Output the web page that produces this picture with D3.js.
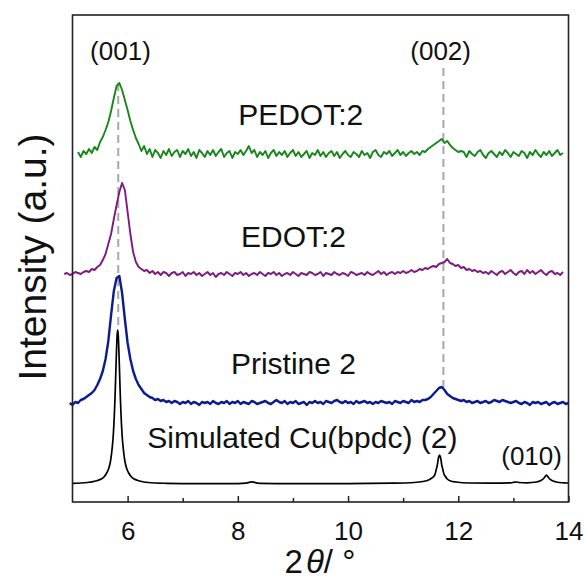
<!DOCTYPE html>
<html>
<head>
<meta charset="utf-8">
<script src="https://cdn.jsdelivr.net/npm/d3@7"></script>
<style>
  body { margin: 0; background: #fff; }
  svg { font-family: "Liberation Sans", Arial, sans-serif; }
</style>
</head>
<body>
<svg id="chart" width="585" height="582"></svg>
<script>
// 2theta axis
const xDomain = [5, 14]
const majorTicks = [6, 8, 10, 12, 14]
const minorTicks = [7, 9, 11, 13]

// stacked offsets (a.u.)
const offsets = { pedot: 347, edot: 228, pristine: 99, simulated: 18 }

// PEDOT:2, 5.10 -> 13.90 step 0.05
const pedotStart = 5.10
const pedot = [
  3, -2, 4, 1, 6, 2, 8, 5, 13, 18,
  25, 33, 44, 57, 69, 72, 65, 55, 45, 34,
  25, 17, 11, 4, 9, 1, 6, -2, 5, 2,
  -3, 4, 0, 6, -1, 3, 5, -2, 4, 1,
  6, -1, 3, -3, 5, 2, -2, 4, 0, 5,
  -1, 3, 6, -2, 2, 4, -3, 3, 1, 5,
  0, 4, 9, 2, 5, -2, 3, 0, 4, -3,
  2, 5, -1, 3, 0, 4, -2, 2, 5, -1,
  3, -2, 1, 4, -3, 2, 0, 5, -1, 3,
  -2, 2, 4, -1, 3, -3, 1, 4, 0, -2,
  3, 1, -2, 4, 0, 2, -3, 3, 5, 0,
  -2, 3, 1, 4, -1, 2, 5, 0, 3, -1,
  2, 4, 1, 3, 0, 4, 3, 6, 8, 10,
  12, 14, 16, 12, 14, 10, 7, 5, 3, 4,
  3, -2, 4, 1, -1, 3, 5, 0, -3, 2,
  4, 1, -2, 3, 0, 5, 2, -2, 3, 1,
  -1, 4, 2, -3, 3, 0, 5, 1, -2, 3,
  0, 4, -1, 2, 5, 0, 2
]

// EDOT:2, 4.85 -> 13.90 step 0.05
const edotStart = 4.85
const edot = [
  0, 1, -1, 0, 2, 1, 0, 2, 3, 2,
  5, 4, 7, 9, 14, 20, 30, 40, 55, 69,
  82, 91, 84, 62, 40, 22, 12, 7, 5, 3,
  4, 1, 3, 0, 2, -1, 2, 1, -2, 1,
  2, -1, 0, 2, -2, 1, 0, 2, -1, 1,
  -2, 0, 2, -1, 1, -3, 0, 1, -1, 2,
  0, -2, 1, 0, 2, -1, 1, -2, 0, 1,
  -1, 2, 0, -2, 1, 0, 2, -1, 1, -2,
  0, 1, -1, 2, 0, -2, 1, 0, -1, 2,
  1, -1, 0, 2, -2, 1, 0, -1, 2, 0,
  -1, 1, 0, -2, 2, 1, -1, 0, 1, -1,
  2, 0, -1, 1, 3, 0, 2, -1, 1, 2,
  0, 2, 1, 3, 1, 2, 4, 2, 3, 5,
  4, 6, 5, 7, 8, 7, 10, 11, 12, 15,
  11, 10, 8, 9, 6, 7, 4, 5, 3, 4,
  2, 3, 1, 2, 0, 3, 1, -1, 2, 3,
  0, 2, 4, 1, -1, 2, 3, 0, 4, 1,
  3, 0, 2, 4, 1, -1, 2, 3, 0, 1, -1, 2
]

// Pristine 2, 4.95 -> 14.00 step 0.05
const pristineStart = 4.95
const pristine = [
  0, -2, 1, 0, 3, 4, 6, 8, 10, 13,
  18, 24, 32, 44, 62, 88, 112, 125, 127, 110,
  84, 60, 44, 32, 24, 18, 14, 10, 8, 6,
  5, 3, 4, 2, 3, 1, 2, 0, 2, 1,
  -1, 1, 0, 2, -1, 1, 0, -2, 1, 0,
  1, -1, 2, 0, -1, 1, 0, 2, -1, 1,
  0, 2, -1, 1, 0, -1, 2, 1, -1, 0,
  1, 2, 0, -1, 1, 3, 1, 0, 2, -1,
  1, 0, 2, -1, 0, 1, -2, 1, 0, 2,
  0, 1, -1, 2, 1, 0, 2, 3, 1, 0,
  2, 0, 1, -1, 2, 0, 1, 2, 0, 1,
  -1, 1, 0, 2, 1, 0, 1, -1, 2, 1,
  0, 2, 1, 0, 3, 1, 2, 1, 3, 3,
  4, 6, 9, 12, 15, 16, 13, 9, 7, 5,
  4, 3, 2, 3, 1, 2, 0, 1, 2, 0,
  1, 2, 0, 1, 3, 2, 1, 3, 2, 1,
  0, 1, 2, 0, -1, 1, 0, -2, 1, 0,
  1, -1, 0, 1, -2, 0, 1, -1, 0, 1, -1, 0
]
const step = 0.05

// Simulated Cu(bpdc) (2), [2theta, intensity]
const simulated = [
  [5.00, 0.7], [5.27, 1.5], [5.42, 3], [5.52, 5], [5.57, 7], [5.62, 11], [5.66, 16],
  [5.69, 23], [5.72, 36], [5.74, 49], [5.76, 70], [5.77, 84], [5.78, 101], [5.79, 119],
  [5.80, 136], [5.81, 149], [5.82, 154], [5.83, 149], [5.84, 136], [5.85, 119], [5.86, 101],
  [5.87, 84], [5.88, 70], [5.90, 49], [5.92, 36], [5.95, 23], [5.98, 16], [6.02, 11],
  [6.07, 7], [6.12, 5], [6.22, 3], [6.37, 1.5], [6.70, 0.7], [7.30, 0.3], [8.00, 0.4],
  [8.15, 0.9], [8.22, 1.8], [8.26, 2.2], [8.30, 1.6], [8.40, 0.7], [9.00, 0.3], [10.00, 0.4],
  [10.80, 0.8], [11.20, 1.5], [11.36, 2.5], [11.46, 4], [11.52, 6], [11.56, 8], [11.58, 10],
  [11.60, 14.5], [11.62, 19], [11.64, 26], [11.66, 29], [11.68, 26], [11.70, 19], [11.72, 14.5],
  [11.74, 10], [11.76, 8], [11.80, 5], [11.86, 3], [11.96, 2], [12.20, 1], [12.60, 0.8],
  [12.95, 1.2], [13.02, 1.8], [13.06, 2], [13.10, 1.5], [13.25, 1.2], [13.42, 2], [13.50, 3.5],
  [13.54, 5], [13.57, 7], [13.60, 9], [13.63, 7], [13.66, 5], [13.70, 3.5], [13.78, 2],
  [13.90, 1.2], [14.00, 1]
]

// reference peak positions and dashed extents (a.u.)
const refPeaks = [5.83, 11.73]
const refExtent = [[172, 419], [112, 434]]
const hklLabels = ['(001)', '(002)', '(010)']
const seriesLabels = ['PEDOT:2', 'EDOT:2', 'Pristine 2', 'Simulated Cu(bpdc) (2)']

const svg = d3.select('#chart')
const x = d3.scaleLinear().domain(xDomain).range([72.5, 568.5])
const y = d3.scaleLinear().domain([0, 487]).range([502, 15])

const toPoints = (start, vals, off) => vals.map((v, i) => [start + i * step, v + off])
const series = [
  { pts: toPoints(pedotStart, pedot, offsets.pedot), color: '#17871b', w: 1.9 },
  { pts: toPoints(edotStart, edot, offsets.edot), color: '#7d1a7f', w: 1.9 },
  { pts: toPoints(pristineStart, pristine, offsets.pristine), color: '#0c1b8e', w: 2.4 },
  { pts: simulated.map(d => [d[0], d[1] + offsets.simulated]), color: '#000', w: 1.7, smooth: true }
]

// dashed guides
svg.selectAll('line.ref').data(refPeaks).join('line')
  .attr('x1', d => x(d)).attr('x2', d => x(d))
  .attr('y1', (d, i) => y(refExtent[i][1])).attr('y2', (d, i) => y(refExtent[i][0]))
  .attr('stroke', '#a8a8a8').attr('stroke-width', 2).attr('stroke-dasharray', '8,5')

const line = d3.line().x(d => x(d[0])).y(d => y(d[1]))
svg.selectAll('path.s').data(series).join('path')
  .attr('d', d => line.curve(d.smooth ? d3.curveMonotoneX : d3.curveLinear)(d.pts))
  .attr('fill', 'none').attr('stroke', d => d.color).attr('stroke-width', d => d.w)
  .attr('stroke-linejoin', 'round')

// frame
svg.append('rect').attr('x', x(5)).attr('y', y(487)).attr('width', x(14) - x(5)).attr('height', y(0) - y(487))
  .attr('fill', 'none').attr('stroke', '#222').attr('stroke-width', 1.6)

const ax = svg.append('g').attr('transform', `translate(0,${y(0)})`)
  .call(d3.axisBottom(x).tickValues(majorTicks).tickSizeInner(-6).tickSizeOuter(0).tickPadding(20).tickFormat(d3.format('d')))
ax.select('.domain').remove()
ax.selectAll('text').attr('font-size', 26).attr('fill', '#111').attr('font-family', '"Liberation Sans", Arial, sans-serif')
ax.selectAll('line').attr('stroke', '#222').attr('stroke-width', 1.5)
const axm = svg.append('g').attr('transform', `translate(0,${y(0)})`)
  .call(d3.axisBottom(x).tickValues(minorTicks).tickSizeInner(-4).tickSizeOuter(0).tickFormat(''))
axm.select('.domain').remove()
axm.selectAll('line').attr('stroke', '#222').attr('stroke-width', 1.5)

// labels
const seriesAt = [[9.14, 377], [9.01, 255], [9.01, 128], [9.17, 54]]
svg.selectAll('text.sl').data(seriesLabels).join('text')
  .attr('x', (d, i) => x(seriesAt[i][0])).attr('y', (d, i) => y(seriesAt[i][1]))
  .attr('text-anchor', 'middle').attr('font-size', 30).attr('fill', '#111').text(d => d)
const hklAt = [[5.87, 442], [11.68, 442], [13.33, 37]]
svg.selectAll('text.hkl').data(hklLabels).join('text')
  .attr('x', (d, i) => x(hklAt[i][0])).attr('y', (d, i) => y(hklAt[i][1]))
  .attr('text-anchor', 'middle').attr('font-size', 26).attr('fill', '#111').text(d => d)

// axis titles
const xt = svg.append('text').attr('x', 320).attr('y', 573).attr('text-anchor', 'middle')
  .attr('font-size', 33).attr('fill', '#111')
xt.append('tspan').text('2')
xt.append('tspan').attr('font-style', 'italic').attr('dx', 3).text('θ')
xt.append('tspan').text('/ °')
svg.append('text').attr('transform', 'translate(46,257) rotate(-90)').attr('text-anchor', 'middle')
  .attr('font-size', 39).attr('fill', '#111').text('Intensity (a.u.)')
</script>
</body>
</html>
